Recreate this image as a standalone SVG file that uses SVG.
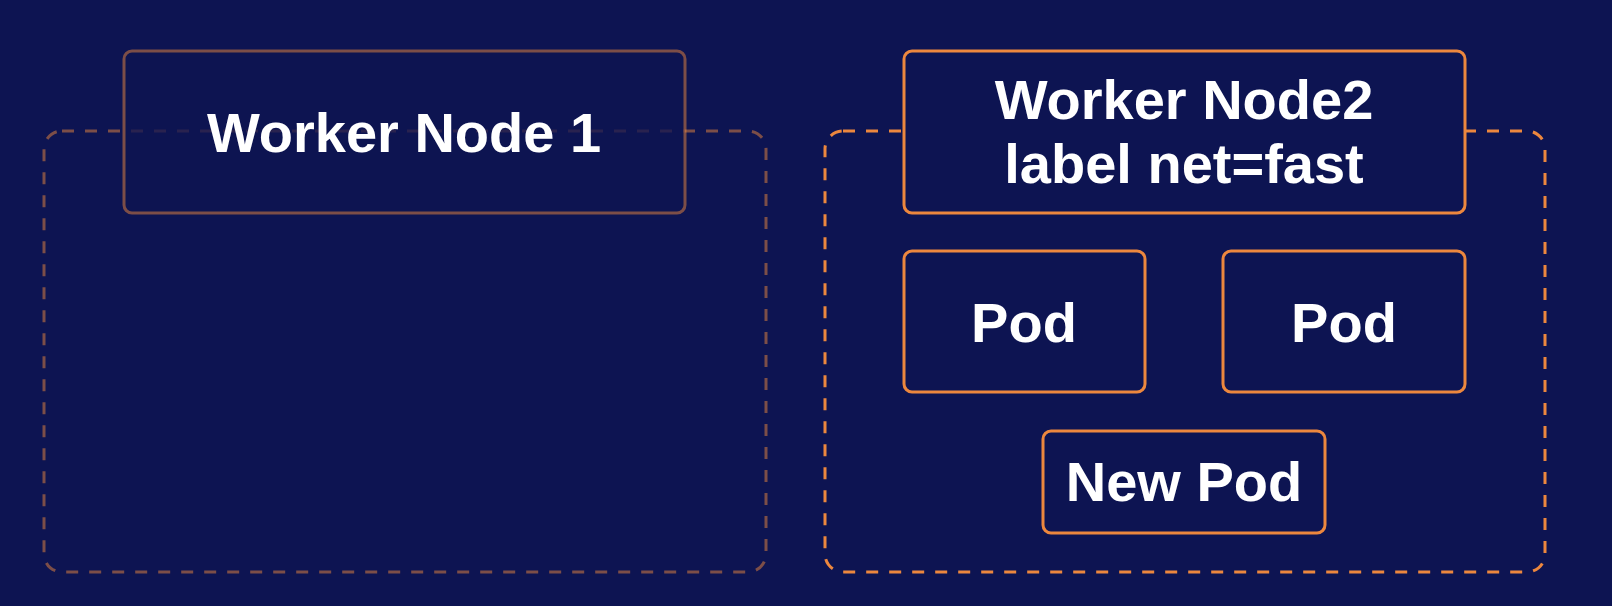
<svg xmlns="http://www.w3.org/2000/svg" width="1612" height="606" viewBox="0 0 1612 606">
<style>
.bg{fill:#0d1452}
.cont{fill:none;stroke:#ec873e;stroke-width:3;stroke-dasharray:12 11}
.dim{stroke-opacity:0.5}
.box{fill:#0d1452;stroke:#ec873e;stroke-width:3}
.dimbox{fill:#0d1452;fill-opacity:0.75;stroke:#ec873e;stroke-opacity:0.5;stroke-width:3}
.t{font-family:"Liberation Sans",Arial,sans-serif;font-weight:bold;fill:#ffffff;text-anchor:middle;font-size:56px}
</style>
<rect class="bg" x="0" y="0" width="1612" height="606"/>
<g id="worker-node-1">
<rect class="cont dim" x="44" y="131" width="722" height="441" rx="18"/>
<rect class="dimbox" x="124" y="51" width="561" height="162" rx="8"/>
<text class="t" x="404" y="152">Worker Node 1</text>
</g>
<g id="worker-node-2">
<rect class="cont" x="825" y="131" width="720" height="441" rx="18"/>
<rect class="box" x="904" y="51" width="561" height="162" rx="8"/>
<text class="t" x="1184" y="119">Worker Node2</text>
<text class="t" x="1184" y="183" font-size="57">label net=fast</text>
</g>
<g id="pod-1">
<rect class="box" x="904" y="251" width="241" height="141" rx="8"/>
<text class="t" x="1024" y="342" font-size="54">Pod</text>
</g>
<g id="pod-2">
<rect class="box" x="1223" y="251" width="242" height="141" rx="8"/>
<text class="t" x="1344" y="342" font-size="54">Pod</text>
</g>
<g id="new-pod">
<rect class="box" x="1043" y="431" width="282" height="102" rx="8"/>
<text class="t" x="1184" y="501">New Pod</text>
</g>
<g id="connectors"></g>
</svg>
